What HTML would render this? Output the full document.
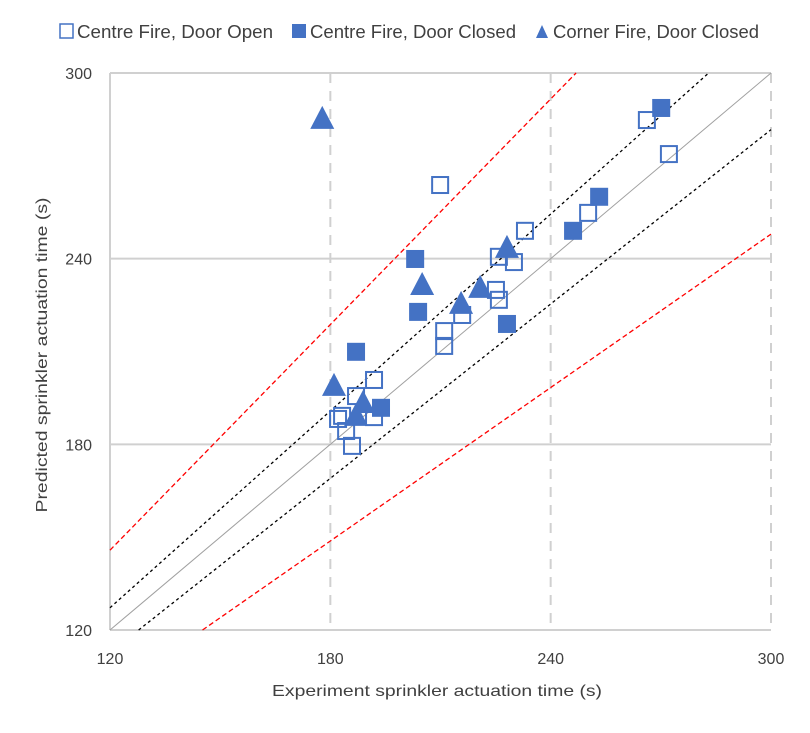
<!DOCTYPE html>
<html><head><meta charset="utf-8"><style>
body{margin:0;background:#fff;width:810px;height:728px;overflow:hidden}
svg text{font-family:"Liberation Sans",sans-serif;fill:#404040}
</style></head><body>
<svg id="chart" width="810" height="728">
<g id="grid"></g>
<g id="refs"></g>
<g id="marks"></g>
<g id="axes"></g>
<g>
 <rect x="60" y="24" width="13" height="14" fill="none" stroke="#4472C4" stroke-width="1.5"/>
 <text x="77" y="38" font-size="18" textLength="196" lengthAdjust="spacingAndGlyphs">Centre Fire, Door Open</text>
 <rect x="292" y="24" width="14" height="14" fill="#4472C4"/>
 <text x="310" y="38" font-size="18" textLength="206" lengthAdjust="spacingAndGlyphs">Centre Fire, Door Closed</text>
 <polygon points="542,25 536,38 548,38" fill="#4472C4"/>
 <text x="553" y="38" font-size="18" textLength="206" lengthAdjust="spacingAndGlyphs">Corner Fire, Door Closed</text>
</g>
<text x="437" y="696" font-size="16" text-anchor="middle" textLength="330" lengthAdjust="spacingAndGlyphs">Experiment sprinkler actuation time (s)</text>
<text transform="translate(47,355) rotate(-90)" font-size="16" text-anchor="middle" textLength="315" lengthAdjust="spacingAndGlyphs">Predicted sprinkler actuation time (s)</text>
</svg>
<script>
const xTicks=[120,180,240,300];
const yTicks=[120,180,240,300];
const openX=[209.9,266.2,272.2,250.2,233.0,225.9,230.0,225.1,225.9,211.0,211.0,191.9,187.0,191.9,182.1,183.2,184.3,185.9,215.9];
const openY=[263.8,284.8,273.8,254.8,249.0,240.6,238.9,229.9,226.7,216.6,211.8,200.8,195.6,188.8,188.2,189.2,184.3,179.5,221.8];
const closedX=[203.1,203.9,187.0,193.8,228.1,270.1,253.2,246.1];
const closedY=[239.9,222.8,209.9,191.8,218.9,288.7,260.0,249.0];
const triX=[177.8,181.0,205.0,215.6,220.8,228.1,188.9,187.0];
const triY=[285.5,199.2,231.8,225.7,230.9,243.8,193.7,189.5];
const refRatios=[1,1.06,1/1.065,1.215,1/1.21];
const NS="http://www.w3.org/2000/svg";
const X=v=>110+(v-120)*(661/180);
const Y=v=>630-(v-120)*(557/180);
function mk(tag,attrs,parent){const e=document.createElementNS(NS,tag);for(const k in attrs)e.setAttribute(k,attrs[k]);document.getElementById(parent).appendChild(e);return e;}
xTicks.forEach((t,i)=>{
 if(i>0){const l=mk('line',{x1:X(t),x2:X(t),y1:Y(300),y2:Y(120),stroke:'#d0d0d0','stroke-width':2,'stroke-dasharray':'10,8'},'grid');
 
 }
 const tx=mk('text',{x:X(t),y:664,'font-size':16,'text-anchor':'middle'},'axes');tx.textContent=t;
 
 
});
yTicks.forEach(t=>{
 const l=mk('line',{x1:X(120),x2:X(300),y1:Y(t),y2:Y(t),stroke:'#d0d0d0','stroke-width':2},'grid');
 
 
 const tx=mk('text',{x:92,y:Y(t)+6,'font-size':16,'text-anchor':'end'},'axes');tx.textContent=t;
 
 
});
const lft=mk('line',{x1:X(120),x2:X(120),y1:Y(300),y2:Y(120),stroke:'#d0d0d0','stroke-width':2},'grid');


refRatios.forEach((r,i)=>{
 let x1=120,y1=r*120; if(y1<120){y1=120;x1=120/r;}
 let x2=300,y2=r*300; if(y2>300){y2=300;x2=300/r;}
 const st=i==0?{stroke:'#a0a0a0','stroke-width':1}:(i<3?{stroke:'#000','stroke-width':1.3,'stroke-dasharray':'3,3'}:{stroke:'#ff0000','stroke-width':1.3,'stroke-dasharray':'5,3'});
 const l=mk('line',Object.assign({x1:X(x1),y1:Y(y1),x2:X(x2),y2:Y(y2)},st),'refs');
 
 
});
openX.forEach((v,i)=>{
 const r=mk('rect',{x:X(v)-8,y:Y(openY[i])-8,width:16,height:16,fill:'none',stroke:'#4472C4','stroke-width':2},'marks');
 
 
});
closedX.forEach((v,i)=>{
 const r=mk('rect',{x:X(v)-9,y:Y(closedY[i])-9,width:18,height:18,fill:'#4472C4'},'marks');
 
 
});
triX.forEach((v,i)=>{
 const cx=X(v),cy=Y(triY[i]);
 const p=mk('polygon',{points:`${cx},${cy-12} ${cx-12},${cy+11} ${cx+12},${cy+11}`,fill:'#4472C4'},'marks');
 
 
});
</script>
</body></html>
